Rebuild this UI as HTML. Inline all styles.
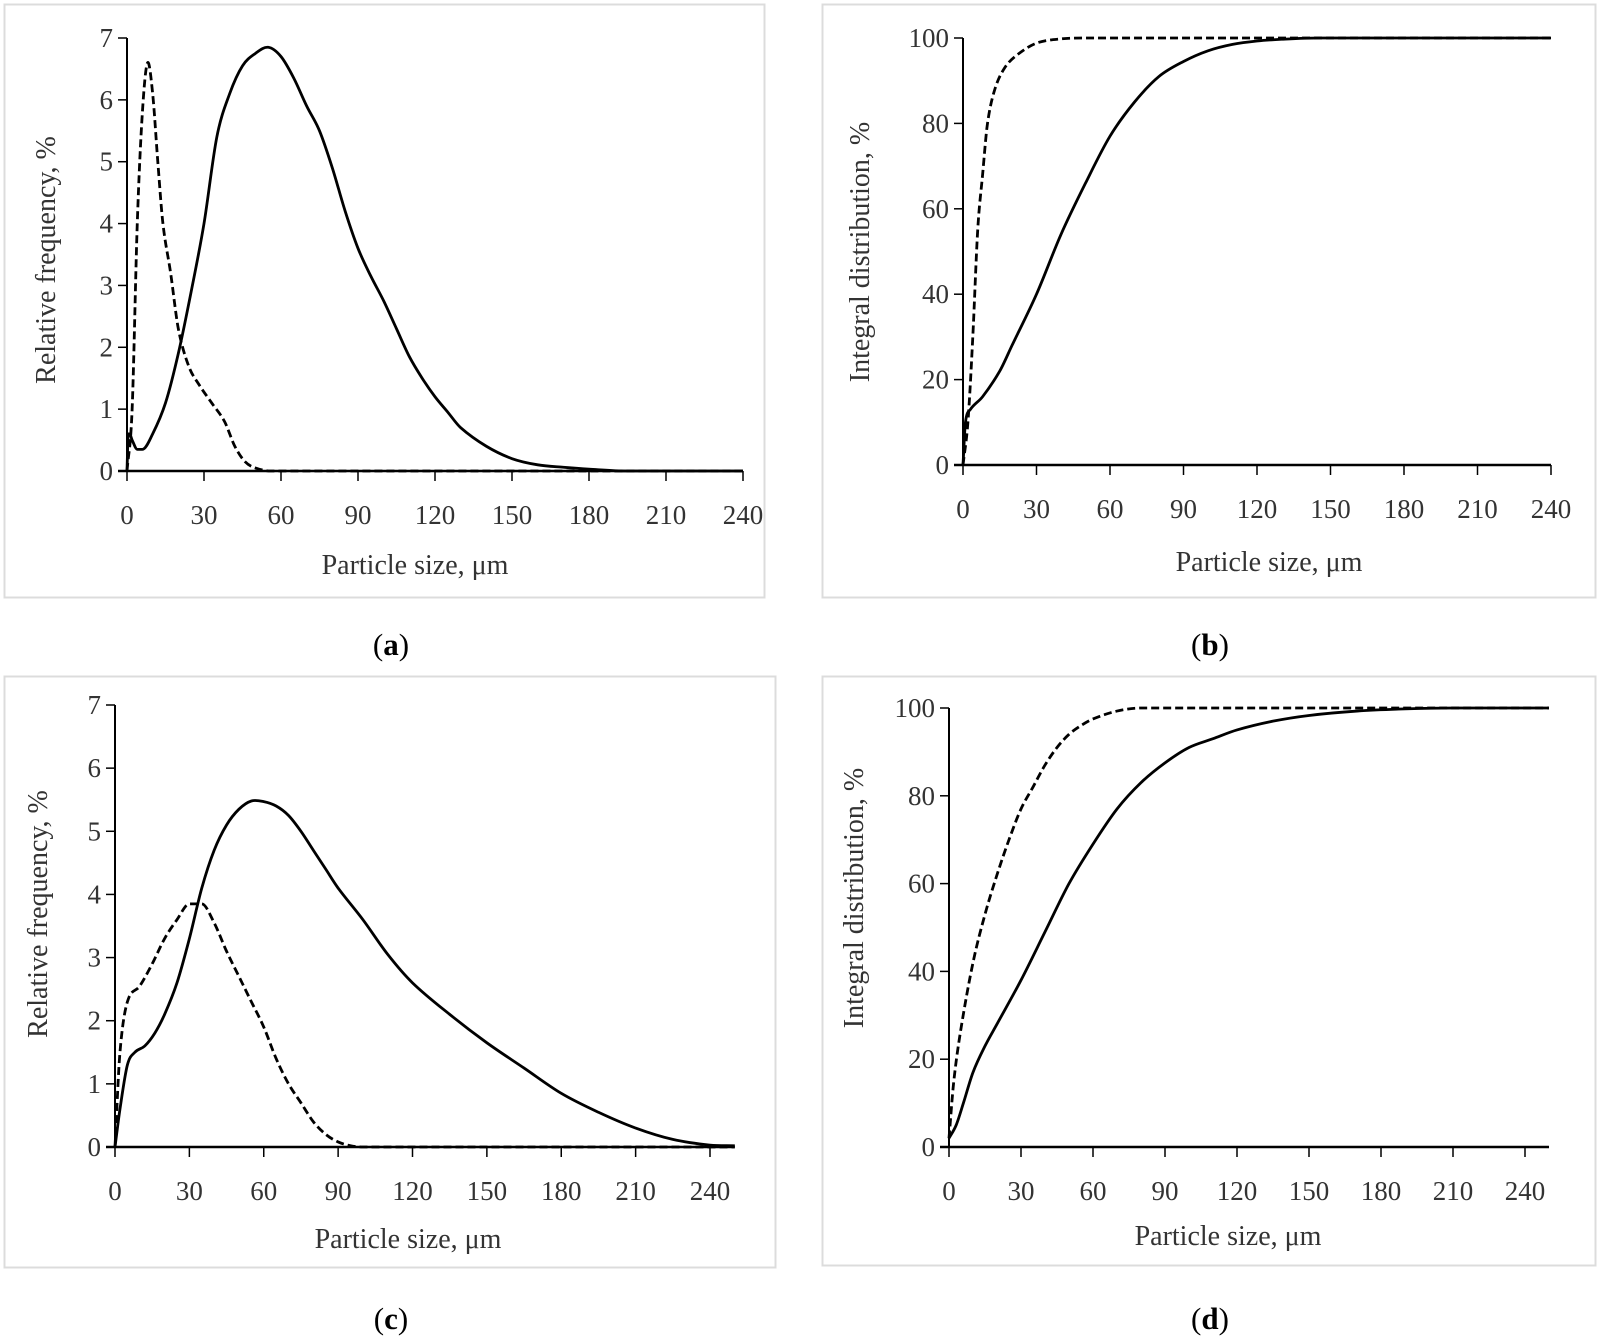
<!DOCTYPE html>
<html><head><meta charset="utf-8">
<style>
html,body{margin:0;padding:0;background:#fff;}
svg{display:block;font-family:"Liberation Serif",serif;}
</style></head>
<body>
<svg id="fig" width="1598" height="1339" viewBox="0 0 1598 1339"></svg>
<script>
// Panel (a) data
const aSolidX=[0,0.5,1,2,4,6,10,15,20,25,30,35,40,45,50,55,60,65,70,75,80,85,90,95,100,105,110,115,120,125,130,140,150,160,170,180,195,240];
const aSolidY=[0,0.6,0.6,0.5,0.35,0.35,0.6,1.1,1.9,2.9,4.0,5.4,6.1,6.55,6.75,6.85,6.7,6.35,5.9,5.5,4.9,4.2,3.6,3.15,2.75,2.3,1.85,1.5,1.2,0.95,0.7,0.4,0.2,0.1,0.06,0.03,0,0];
const aDashX=[0,2,4,6,8,10,12,14,17,20,24,28,33,38,42,46,50,56,240];
const aDashY=[0,1,4,5.8,6.6,6.1,5,4,3.2,2.3,1.7,1.4,1.1,0.8,0.4,0.15,0.05,0,0];
// Panel (b) data
const bSolidX=[0,1,3,8,15,20,30,40,50,60,70,80,90,100,110,120,130,145,240];
const bSolidY=[0,10,13,16,22,28,40,54,66,77,85,91,94.5,97,98.5,99.3,99.7,100,100];
const bDashX=[0,2,4,6,8,10,13,17,22,30,40,50,240];
const bDashY=[0,10,30,55,68,80,88,93,96,98.8,99.8,100,100];
// Panel (c) data
const cSolidX=[0,2,5,8,12,16,20,25,30,35,40,45,50,55,60,65,70,75,80,85,90,100,110,120,135,150,165,180,195,210,225,240,250];
const cSolidY=[0,0.6,1.3,1.5,1.6,1.8,2.1,2.6,3.3,4.1,4.7,5.1,5.35,5.48,5.47,5.4,5.25,5.0,4.7,4.4,4.1,3.6,3.05,2.6,2.1,1.65,1.25,0.85,0.55,0.3,0.12,0.03,0.02];
const cDashX=[0,2,5,10,15,20,25,30,35,40,45,50,55,60,65,70,75,80,85,90,95,100,250];
const cDashY=[0,1.5,2.3,2.55,2.9,3.3,3.6,3.85,3.85,3.55,3.1,2.7,2.3,1.9,1.4,1.0,0.7,0.4,0.2,0.08,0.02,0,0];
// Panel (d) data
const dSolidX=[0,3,6,10,15,20,30,40,50,60,70,80,90,100,110,120,135,150,170,190,210,250];
const dSolidY=[2,5,10,17,23,28,38,49,60,69,77,83,87.5,91,93,95,97,98.3,99.3,99.8,100,100];
const dDashX=[0,2,5,10,15,20,25,30,35,40,45,50,55,60,70,80,250];
const dDashY=[2,15,27,42,53,62,70,77,82,87,91,94,96,97.5,99.3,100,100];
// Tick labels
const xTicks=[0,30,60,90,120,150,180,210,240];
const freqTicks=[0,1,2,3,4,5,6,7];
const intTicks=[0,20,40,60,80,100];

const NS="http://www.w3.org/2000/svg";
const svg=document.getElementById('fig');
function mk(tag,attrs,parent){const e=document.createElementNS(NS,tag);for(const k in attrs)e.setAttribute(k,attrs[k]);(parent||svg).appendChild(e);return e;}

// cubic Hermite through points (x increasing), tangents from neighbours
function smoothPath(pts){
  const n=pts.length;
  const m=pts.map((p,i)=>{
    const a=pts[Math.max(0,i-1)],b=pts[Math.min(n-1,i+1)];
    if(b[0]===a[0])return 0;
    let s=(b[1]-a[1])/(b[0]-a[0]);
    // flatten at local extrema / flat segments
    if(i>0&&i<n-1){
      const s1=(p[1]-a[1]),s2=(b[1]-p[1]);
      if(s1*s2<=0 && Math.abs(s1)+Math.abs(s2)<1e-6) s=0;
      if(Math.abs(s2)<1e-6||Math.abs(s1)<1e-6) s=0;
    }
    return s;
  });
  let d=`M${pts[0][0].toFixed(2)},${pts[0][1].toFixed(2)}`;
  for(let i=0;i<n-1;i++){
    const p1=pts[i],p2=pts[i+1],dx=(p2[0]-p1[0])/3;
    const c1=[p1[0]+dx,p1[1]+m[i]*dx];
    const c2=[p2[0]-dx,p2[1]-m[i+1]*dx];
    d+=`C${c1[0].toFixed(2)},${c1[1].toFixed(2)} ${c2[0].toFixed(2)},${c2[1].toFixed(2)} ${p2[0].toFixed(2)},${p2[1].toFixed(2)}`;
  }
  return d;
}

function panel(cfg){
  const g=mk('g',{});
  
  
  const box=mk('rect',{x:cfg.box[0]+0.5,y:cfg.box[1]+0.5,width:cfg.box[2]-cfg.box[0],height:cfg.box[3]-cfg.box[1],fill:'none',stroke:'#dcdcdc','stroke-width':2},g);
  
  
  const sx=v=>cfg.x0+(v)*(cfg.x240-cfg.x0)/240;
  const sy=v=>cfg.y0-(v)*(cfg.y0-cfg.yTop)/cfg.yMax;
  const ya=mk('line',{x1:cfg.x0,y1:cfg.y0,x2:cfg.x0,y2:cfg.yTop,stroke:'#000','stroke-width':2},g);
  
  
  const xa=mk('line',{x1:cfg.x0-9,y1:cfg.y0,x2:sx(cfg.xEnd),y2:cfg.y0,stroke:'#000','stroke-width':2.5},g);
  
  
  cfg.yTicks.forEach(v=>{
    mk('line',{x1:cfg.x0-9,y1:sy(v),x2:cfg.x0,y2:sy(v),stroke:'#000','stroke-width':1.5},g);
    const t=mk('text',{x:cfg.x0-14,y:sy(v)+9,'text-anchor':'end','font-size':27,fill:'#333'},g);
    t.textContent=v;
    
    
  });
  xTicks.forEach(v=>{
    mk('line',{x1:sx(v),y1:cfg.y0,x2:sx(v),y2:cfg.y0+10,stroke:'#000','stroke-width':1.5},g);
    const t=mk('text',{x:sx(v),y:cfg.y0+53,'text-anchor':'middle','font-size':27,fill:'#333'},g);
    t.textContent=v;
    
    
  });
  const xt=mk('text',{x:cfg.xTitle[0],y:cfg.xTitle[1],'text-anchor':'middle','font-size':28,fill:'#333'},g);
  xt.textContent='Particle size, μm';
  
  
  const yt=mk('text',{x:0,y:0,'text-anchor':'middle','font-size':28,fill:'#333',transform:`translate(${cfg.yTitle[0]},${cfg.yTitle[1]}) rotate(-90)`},g);
  yt.textContent=cfg.yLabel;
  
  
  const dp=smoothPath(cfg.dx.map((x,i)=>[sx(x),sy(cfg.dy[i])]));
  const dl=mk('path',{d:dp,fill:'none',stroke:'#000','stroke-width':2.8,'stroke-dasharray':'8 4'},g);
  
  
  const sp=smoothPath(cfg.sx.map((x,i)=>[sx(x),sy(cfg.sy[i])]));
  const sl=mk('path',{d:sp,fill:'none',stroke:'#000','stroke-width':2.8},g);
  
  
  const cap=mk('text',{x:cfg.cap[0],y:cfg.cap[1],'text-anchor':'middle','font-size':31,fill:'#000'},g);
  cap.innerHTML='(<tspan font-weight="bold">'+cfg.letter+'</tspan>)';
  
  
}

panel({name:'panel-a',box:[4,4,764,597],x0:127,x240:743,xEnd:240,y0:471,yTop:38,yMax:7,yTicks:freqTicks,
  yLabel:'Relative frequency, %',xTitle:[415,574],yTitle:[55,260],cap:[391,655],letter:'a',
  sx:aSolidX,sy:aSolidY,dx:aDashX,dy:aDashY});
panel({name:'panel-b',box:[822,4,1595,597],x0:963,x240:1551,xEnd:240,y0:465,yTop:38,yMax:100,yTicks:intTicks,
  yLabel:'Integral distribution, %',xTitle:[1269,571],yTitle:[869,252],cap:[1210,655],letter:'b',
  sx:bSolidX,sy:bSolidY,dx:bDashX,dy:bDashY});
panel({name:'panel-c',box:[4,676,775,1267],x0:115,x240:710,xEnd:250,y0:1147,yTop:705,yMax:7,yTicks:freqTicks,
  yLabel:'Relative frequency, %',xTitle:[408,1248],yTitle:[47,914],cap:[391,1329],letter:'c',
  sx:cSolidX,sy:cSolidY,dx:cDashX,dy:cDashY});
panel({name:'panel-d',box:[822,676,1595,1265],x0:949,x240:1525,xEnd:250,y0:1147,yTop:708,yMax:100,yTicks:intTicks,
  yLabel:'Integral distribution, %',xTitle:[1228,1245],yTitle:[863,898],cap:[1210,1329],letter:'d',
  sx:dSolidX,sy:dSolidY,dx:dDashX,dy:dDashY});
</script>
</body></html>
